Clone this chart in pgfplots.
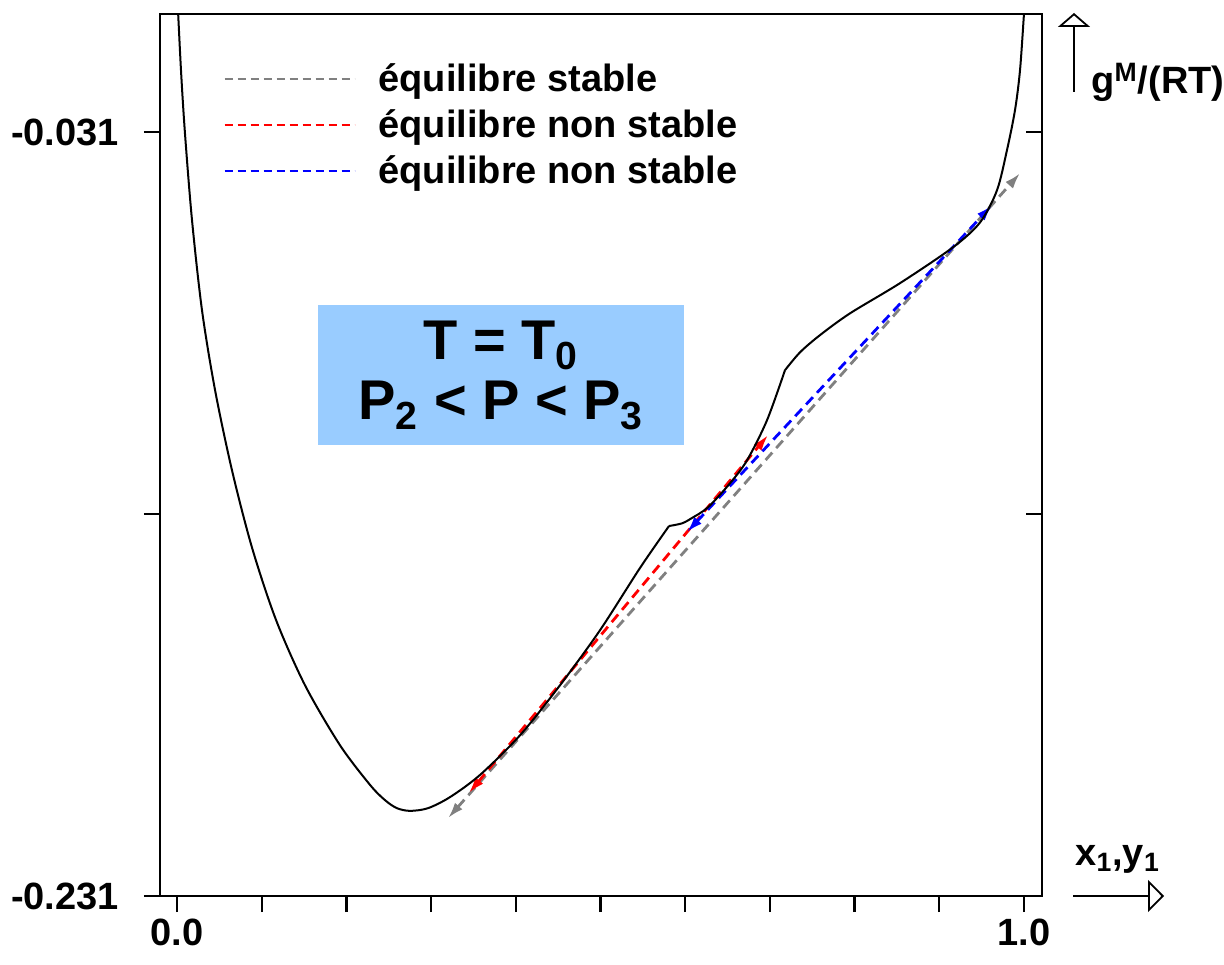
\documentclass[border=0pt]{standalone}
\usepackage{fontspec}
\setmainfont{Liberation Sans}
\usepackage{pgfplots}
\pgfplotsset{compat=1.18}
\usetikzlibrary{arrows.meta}
\definecolor{boxblue}{RGB}{153,204,255}
\definecolor{lgray}{RGB}{128,128,128}

\begin{document}
\begin{tikzpicture}
\begin{axis}[name=ax, scale only axis, width=441pt, height=441pt,
  xmin=-0.0201, xmax=1.0213, ymin=-0.231, ymax=0,
  xtick={0,0.1,0.2,0.3,0.4,0.5,0.6,0.7,0.8,0.9,1},
  xticklabels={0.0,,,,,,,,,,1.0},
  ytick={-0.231,-0.131,-0.031}, yticklabels={-0.231,,-0.031},
  xtick pos=bottom, ytick pos=left, tick align=outside, major tick length=8pt,
  tick style={line width=1.1pt, black},
  axis line style={line width=1.2pt},
  ticklabel style={font=\bfseries\fontsize{19}{22}\selectfont},
  yticklabel style={xshift=-9pt},
  legend style={at={(rel axis cs:0.065,0.953)}, anchor=north west, draw=none, fill=none,
    font=\bfseries\fontsize{19}{22}\selectfont, row sep=3.5pt},
  legend cell align=left,
  legend image code/.code={\draw[#1, arrows=-, line width=0.8pt, dash pattern=on 4pt off 2.5pt] (0pt,0pt) -- (65pt,0pt);
    \path[draw=none, fill=none, arrows=-] (0pt,0pt) -- (75pt,0pt);},
]
\addplot[lgray, dash pattern=on 5pt off 3pt, line width=1.4pt,
  {Latex[length=8pt,width=5pt]}-{Latex[length=8pt,width=5pt]}]
  coordinates {(0.3200,-0.2106) (0.9953,-0.0417)};
\addlegendentry{équilibre stable}
\addplot[red, dash pattern=on 5pt off 3pt, line width=1.4pt,
  {Latex[length=8pt,width=5pt]}-{Latex[length=8pt,width=5pt]}]
  coordinates {(0.3447,-0.2040) (0.6978,-0.1103)};
\addlegendentry{équilibre non stable}
\addplot[blue, dash pattern=on 5pt off 3pt, line width=1.4pt,
  {Latex[length=8pt,width=5pt]}-{Latex[length=8pt,width=5pt]}]
  coordinates {(0.6021,-0.1357) (0.9622,-0.0501)};
\addlegendentry{équilibre non stable}

\addplot[black, line width=1pt, smooth, forget plot] coordinates {
(0.0005,0.004) (0.0047,-0.0148) (0.0094,-0.0313) (0.0177,-0.0540)
(0.0295,-0.0776) (0.0449,-0.0985) (0.0649,-0.1195) (0.0886,-0.1398) (0.1169,-0.1587)
(0.1511,-0.1758) (0.1924,-0.1915) (0.2279,-0.2019) (0.2456,-0.2059) (0.2597,-0.2080)
(0.2751,-0.2087) (0.2963,-0.2080) (0.3223,-0.2051) (0.3577,-0.1993) (0.4050,-0.1889)
(0.4522,-0.1758) (0.4994,-0.1614) (0.5466,-0.1451) (0.5809,-0.1341)
};
\addplot[black, line width=1pt, smooth, forget plot] coordinates {
(0.5809,-0.1341) (0.5962,-0.1334) (0.6080,-0.1320) (0.6269,-0.1292)
(0.6529,-0.1229) (0.6730,-0.1169) (0.6966,-0.1064) (0.7178,-0.0933)
};
\addplot[black, line width=1pt, smooth, forget plot] coordinates {
(0.7178,-0.0933) (0.7356,-0.0886) (0.7592,-0.0841) (0.7946,-0.0784) (0.8536,-0.0705)
(0.9162,-0.0611) (0.9481,-0.0546) (0.9681,-0.0462) (0.9799,-0.0357) (0.9894,-0.0252)
(0.9953,-0.0148) (1.0000,0.0000) (1.0010,0.0035)
};

\node[fill=boxblue, minimum width=183pt, minimum height=70pt, align=center, inner sep=0pt,
  font=\bfseries\fontsize{28}{30}\selectfont] at (axis cs:0.3825,-0.0946)
  {T = T\textsubscript{0}\\P\textsubscript{2} < P < P\textsubscript{3}};
\end{axis}
\begin{axis}[scale only axis, width=441pt, height=441pt,
  xmin=-0.0201, xmax=1.0213, ymin=-0.231, ymax=0,
  xtick=\empty, ytick={-0.231,-0.131,-0.031}, yticklabels={},
  ytick pos=right, tick align=inside, major tick length=8pt,
  tick style={line width=1.1pt, black},
  axis line style={line width=1.2pt}]
\end{axis}
\draw[-{Triangle[open,width=16pt,length=7pt]}, line width=0.9pt]
  ([shift={(16pt,-39pt)}]ax.north east) -- ([shift={(16pt,0.5pt)}]ax.north east);
\node[anchor=base west, inner sep=0pt, font=\bfseries\fontsize{19}{22}\selectfont]
  at ([shift={(24.5pt,-40pt)}]ax.north east) {g\textsuperscript{M}/(RT)};
\draw[-{Triangle[open,width=16pt,length=8pt]}, line width=0.9pt]
  ([shift={(15.5pt,0pt)}]ax.south east) -- ([shift={(61pt,0pt)}]ax.south east);
\node[anchor=base west, inner sep=0pt, font=\bfseries\fontsize{19}{22}\selectfont]
  at ([shift={(16.5pt,15.5pt)}]ax.south east) {x\textsubscript{1},y\textsubscript{1}};
\pgfresetboundingbox
\path ([shift={(-80pt,-34pt)}]ax.south west) rectangle ([shift={(91pt,7pt)}]ax.north east);
\end{tikzpicture}
\end{document}
